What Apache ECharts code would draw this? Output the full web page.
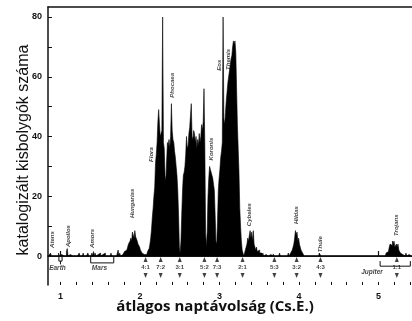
<!DOCTYPE html>
<html>
<head>
<meta charset="utf-8">
<script src="https://cdn.jsdelivr.net/npm/echarts@6/dist/echarts.min.js"></script>
<style>
  html, body { margin: 0; padding: 0; background: #fff; }
  #chart { width: 412px; height: 321px; }
</style>
</head>
<body>
<div id="chart"></div>
<script>
const binWidth = 0.01

const mainBeltStart = 2.08
const mainBeltCounts = [
  0.5, 1, 1.5, 2, 2.5, 4, 6, 9, 13, 16,
  20, 23, 31, 34, 38, 45, 49, 44, 40, 41,
  42, 80, 38, 36, 27, 25, 32, 38, 37, 39,
  36, 40, 51, 42, 39, 38, 35, 33, 30, 27,
  22, 14, 3, 1, 5, 14, 22, 27, 28, 30,
  34, 40, 36, 37, 41, 43, 47, 51, 40, 39,
  42, 41, 38, 40, 36, 39, 37, 41, 38, 40,
  44, 42, 45, 56, 38, 8, 3, 8, 20, 26,
  30, 29, 28, 27, 26, 24, 22, 14, 5, 4,
  12, 22, 26, 29, 33, 35, 38, 80, 46, 44,
  48, 52, 55, 58, 60, 62, 64, 66, 67, 70,
  72, 71, 72, 68, 56, 44, 36, 28, 16, 10,
  5, 2, 1
]

const hungariaStart = 1.78
const hungariaCounts = [0.5, 1, 1, 1.5, 2, 2, 2.5, 3, 4, 3.5, 5, 6, 5, 8, 7, 6, 8.5, 6.5, 7, 5, 4, 3.5, 3, 2, 1.5, 1, 0.5, 0.5]

const cybeleStart = 3.32
const cybeleCounts = [1, 1.5, 3, 4, 6, 5, 7, 8.5, 6, 8, 5, 8.5, 4, 3, 2, 3, 1.5, 2, 2, 1, 1.5, 1]

const hildaStart = 3.89
const hildaCounts = [0.5, 1, 1.5, 2, 3, 4, 6, 8.5, 7, 8, 5, 6, 4, 3, 2, 1.5, 1, 0.5]

const trojanStart = 5.10
const trojanCounts = [1, 0.5, 1.5, 2, 3, 4, 4.5, 3.5, 5, 4, 5, 3, 2.5, 4, 3, 4, 2, 1.5, 1, 1, 0.5]

// isolated small bins
const scatteredAu = [0.88, 0.98, 1.01, 1.08, 1.09, 1.12, 1.17, 1.24, 1.29, 1.31, 1.35, 1.40, 1.42, 1.44, 1.47, 1.50, 1.53, 1.56, 1.60, 1.64, 1.69, 1.73, 1.75,
  3.55, 3.58, 3.64, 3.68, 3.72, 3.76, 3.80, 3.84, 3.87, 4.10, 4.26, 4.27, 5.35, 5.38]
const scatteredCounts = [1, 1, 0.5, 1.5, 2.5, 0.5, 0.5, 1, 1, 0.5, 1, 1, 1.5, 1, 0.5, 1, 0.5, 1, 0.5, 1, 0.5, 2, 1,
  1, 0.5, 0.5, 0.7, 0.5, 1, 0.5, 0.5, 1, 0.5, 1, 1, 1, 0.5]

const resonanceNames = ['4:1', '7:2', '3:1', '5:2', '7:3', '2:1', '5:3', '3:2', '4:3', '1:1']
const resonanceAu = [2.07, 2.26, 2.50, 2.81, 2.97, 3.29, 3.69, 3.97, 4.27, 5.23]

const groupNames = ['Atens', 'Apollos', 'Amors', 'Hungarias', 'Flora', 'Phocaea', 'Koronis', 'Eos', 'Themis', 'Cybeles', 'Hildas', 'Thule', 'Trojans']
const groupAu = [0.90, 1.10, 1.405, 1.91, 2.14, 2.41, 2.893, 2.994, 3.113, 3.37, 3.97, 4.27, 5.23]
const groupLabelBase = [2.7, 3, 2.7, 12.7, 31.5, 53, 32, 62, 62.3, 10, 10.7, 1.3, 6.7]

const planetNames = ['Earth', 'Mars', 'Jupiter']
const planetPerihelion = [0.98, 1.38, 5.02]
const planetAphelion = [1.02, 1.67, 5.40]
const planetLabelAu = [0.962, 1.49, 4.918]

const xLabelValues = [1, 2, 3, 4, 5]
const xMinorTicks = [1.0, 1.2, 1.4, 1.6, 1.8, 2.0, 2.2, 2.4, 2.6, 2.8, 3.0, 3.2, 3.4, 3.6, 3.8, 4.0, 4.2, 4.4, 4.6, 4.8, 5.0, 5.2, 5.4]
const yLabelValues = [0, 20, 40, 60, 80]
const yTickValues = [0, 10, 20, 30, 40, 50, 60, 70, 80]

const xMin = 0.843
const xMax = 5.421

// one dense row of bins so the area is a single solid shape
const firstBin = 0.85
const binCount = Math.round((5.42 - firstBin) / binWidth) + 1
const dense = new Array(binCount).fill(0)
function put (start, counts) {
  counts.forEach((c, i) => {
    const idx = Math.round((start - firstBin) / binWidth) + i
    dense[idx] = c
  })
}
put(mainBeltStart, mainBeltCounts)
put(hungariaStart, hungariaCounts)
put(cybeleStart, cybeleCounts)
put(hildaStart, hildaCounts)
put(trojanStart, trojanCounts)
scatteredAu.forEach((a, i) => put(a, [scatteredCounts[i]]))
const histData = dense.map((c, i) => [Math.round((firstBin + i * binWidth) * 1000) / 1000, c])

const ink = '#111'
const sans = 'Liberation Sans'

const chart = echarts.init(document.getElementById('chart'))

const option = {
  animation: false,
  grid: { left: 48, right: 0, top: 7, bottom: 36, containLabel: false, outerBoundsMode: 'none' },
  xAxis: [
    {
      type: 'value',
      min: xMin,
      max: xMax,
      position: 'bottom',
      axisLine: { lineStyle: { color: ink, width: 1.5 } },
      axisTick: { inside: true, length: 5, customValues: xLabelValues, lineStyle: { color: ink, width: 1.2 } },
      axisLabel: { customValues: xLabelValues, margin: 7, color: ink, fontSize: 9, fontWeight: 'bold', fontFamily: sans },
      splitLine: { show: false },
      name: 'átlagos naptávolság (Cs.E.)',
      nameLocation: 'middle',
      nameGap: 14,
      nameMoveOverlap: false,
      nameTextStyle: { color: ink, fontSize: 15, fontWeight: 'bold', fontFamily: 'Open Sans', padding: [0, 30, 0, 0] }
    },
    {
      type: 'value',
      min: xMin,
      max: xMax,
      position: 'bottom',
      axisLine: { show: false },
      axisTick: { inside: true, length: 3, customValues: xMinorTicks, lineStyle: { color: ink, width: 1 } },
      axisLabel: { show: false },
      splitLine: { show: false }
    },
    {
      type: 'value',
      min: xMin,
      max: xMax,
      position: 'top',
      axisLine: { show: true, lineStyle: { color: ink, width: 1.5 } },
      axisTick: { show: false },
      axisLabel: { show: false },
      splitLine: { show: false }
    }
  ],
  yAxis: {
    type: 'value',
    min: -9.7,
    max: 83.35,
    axisLine: { show: true, lineStyle: { color: ink, width: 1.5 } },
    axisTick: { show: true, inside: true, length: 4, customValues: yTickValues, lineStyle: { color: ink, width: 1 } },
    axisLabel: { customValues: yLabelValues, margin: 6, color: ink, fontSize: 9, fontWeight: 'bold', fontFamily: sans },
    splitLine: { show: false },
    name: 'katalogizált kisbolygók száma',
    nameLocation: 'middle',
    nameGap: 16,
    nameMoveOverlap: false,
    nameTextStyle: { color: ink, fontSize: 16, fontFamily: sans, padding: [0, 8, 0, 0] }
  },
  series: [
    {
      // histogram as one stepped area
      type: 'line',
      step: 'middle',
      symbol: 'none',
      data: histData,
      lineStyle: { color: '#000', width: 0.6 },
      areaStyle: { color: '#000', opacity: 1, origin: 0 },
      markLine: {
        silent: true,
        symbol: 'none',
        label: { show: false },
        lineStyle: { color: ink, width: 1.2, type: 'solid' },
        data: [{ yAxis: 0 }]
      }
    },
    {
      // planet brackets
      type: 'custom',
      data: planetNames.map((n, i) => [planetPerihelion[i], planetAphelion[i], i]),
      renderItem: function (params, api) {
        const i = api.value(2)
        const depthTop = i === 2 ? -1.7 : -0.3
        const depthBottom = i === 2 ? -3.4 : (i === 0 ? -1.7 : -2.3)
        const a = api.coord([api.value(0), depthTop])
        const b = api.coord([api.value(0), depthBottom])
        const c = api.coord([api.value(1), depthBottom])
        const d = api.coord([api.value(1), depthTop])
        const children = [{
          type: 'polyline',
          shape: { points: [a, b, c, d] },
          style: { stroke: ink, lineWidth: 1, fill: null }
        }]
        if (i === 0) {
          const mid = api.coord([(api.value(0) + api.value(1)) / 2, -2.8])
          children.push({
            type: 'line',
            shape: { x1: mid[0], y1: b[1], x2: mid[0], y2: mid[1] },
            style: { stroke: ink, lineWidth: 1 }
          })
        }
        return { type: 'group', children: children }
      }
    },
    {
      // planet names
      type: 'scatter',
      symbolSize: 0,
      data: planetNames.map((n, i) => ({ value: [planetLabelAu[i], i === 2 ? -5.4 : -4.0], name: n })),
      label: {
        show: true,
        position: 'inside',
        formatter: '{b}',
        color: ink,
        fontSize: 6.5,
        fontStyle: 'italic',
        fontWeight: 'bold',
        fontFamily: sans
      }
    },
    {
      // resonance arrows up
      type: 'scatter',
      symbol: 'triangle',
      symbolSize: [4, 5],
      itemStyle: { color: ink },
      data: resonanceAu.map(a => [a, -1.2])
    },
    {
      // resonance arrows down
      type: 'scatter',
      symbol: 'triangle',
      symbolSize: [4, 5],
      symbolRotate: 180,
      itemStyle: { color: ink },
      data: resonanceAu.map(a => [a, -6.5])
    },
    {
      // resonance labels
      type: 'scatter',
      symbolSize: 0,
      data: resonanceAu.map((a, i) => ({ value: [a, -3.7], name: resonanceNames[i] })),
      label: {
        show: true,
        position: 'inside',
        formatter: '{b}',
        color: ink,
        fontSize: 6,
        fontWeight: 'bold',
        fontFamily: sans
      }
    },
    {
      // group names, rotated
      type: 'scatter',
      symbolSize: 0,
      data: groupAu.map((a, i) => ({ value: [a, groupLabelBase[i]], name: groupNames[i] })),
      label: {
        show: true,
        position: [0, 0],
        rotate: 90,
        align: 'left',
        verticalAlign: 'middle',
        formatter: '{b}',
        color: ink,
        fontSize: 6,
        fontStyle: 'italic',
        fontWeight: 'bold',
        fontFamily: sans
      }
    }
  ]
}

chart.setOption(option)
</script>
</body>
</html>
